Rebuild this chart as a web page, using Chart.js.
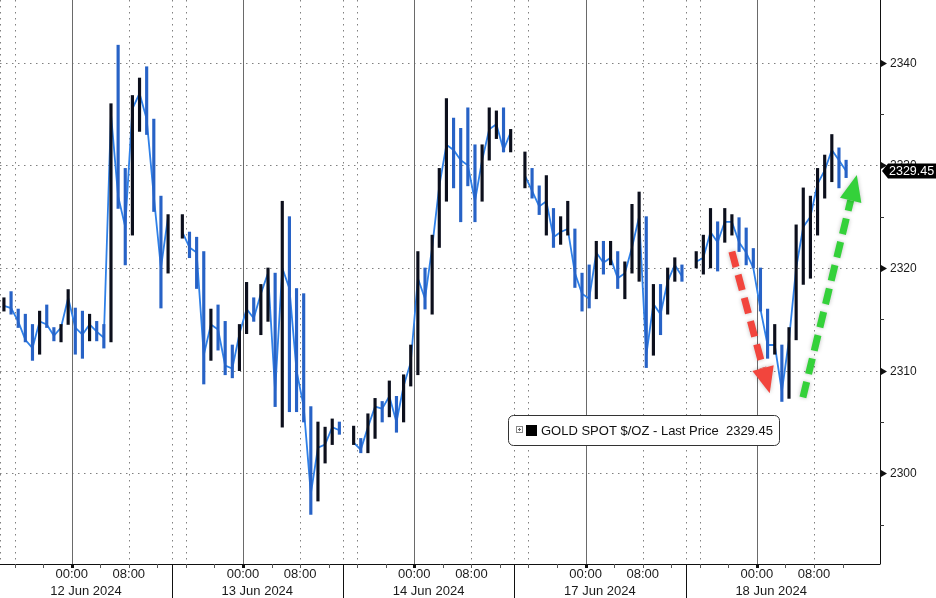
<!DOCTYPE html>
<html>
<head>
<meta charset="utf-8">
<title>Gold spot</title>
<script src="https://cdn.jsdelivr.net/npm/chart.js@4.4.1/dist/chart.umd.min.js"></script>
<style>
  html, body { margin: 0; padding: 0; background: #fff; }
  #wrap { width: 936px; height: 598px; }
</style>
</head>
<body>
<div id="wrap"><canvas id="gold" width="936" height="598"></canvas></div>
<script>
// hourly buckets, index = hour since first session open (weekend removed, null = daily break)
const closes = [
  2316.3, 2316.1, 2314.8, 2313.0, 2312.2, 2314.8, 2314.5, 2313.4, 2314.2, 2317.1, 2314.2, 2313.5,
  2314.5, 2313.8, 2313.2, 2335.0, 2327.0, 2324.0, 2335.5, 2337.0, 2334.5, 2327.0, 2320.0, 2325.0,
  null,   2323.5, 2322.0, 2321.5, 2311.5, 2314.5, 2314.0, 2310.5, 2310.2, 2313.6, 2316.0, 2315.1,
  2317.5, 2319.5, 2308.0, 2320.0, 2318.0, 2310.0, 2306.5, 2298.0, 2302.5, 2302.8, 2304.5, 2304.2,
  null,   2303.0, 2302.3, 2304.5, 2306.5, 2306.3, 2307.5, 2305.0, 2308.5, 2310.8, 2319.0, 2317.0,
  2322.0, 2328.0, 2332.0, 2331.5, 2330.5, 2330.0, 2326.5, 2330.5, 2333.5, 2334.0, 2331.5, 2333.2,
  null,   2329.0, 2327.5, 2326.0, 2326.5, 2323.0, 2323.5, 2323.8, 2319.5, 2317.5, 2317.0, 2321.5,
  2320.5, 2321.0, 2319.0, 2319.5, 2322.0, 2325.0, 2311.5, 2316.5, 2315.5, 2318.7, 2320.3, 2319.2,
  null,   2320.6, 2321.0, 2323.5, 2322.5, 2324.5, 2324.5, 2322.5, 2321.5, 2320.0, 2316.0, 2312.5,
  2312.5, 2308.0, 2313.0, 2320.0, 2324.0, 2325.0, 2328.2, 2329.5, 2331.5, 2330.5, 2329.45
];
const highs = [
  2317.1, 2317.7, 2316.0, 2315.5, 2314.5, 2315.8, 2316.4, 2314.2, 2314.5, 2317.9, 2316.1, 2315.8,
  2315.5, 2314.8, 2314.5, 2336.0, 2341.7, 2329.7, 2336.8, 2338.5, 2339.6, 2334.5, 2327.0, 2325.2,
  null,   2325.2, 2323.5, 2323.0, 2321.6, 2316.0, 2316.4, 2314.8, 2312.5, 2314.5, 2318.6, 2317.1,
  2318.4, 2320.0, 2319.5, 2326.5, 2325.0, 2318.0, 2317.5, 2306.5, 2305.0, 2304.5, 2305.3, 2305.0,
  null,   2304.6, 2303.4, 2305.8, 2307.3, 2307.0, 2309.0, 2307.5, 2309.6, 2312.5, 2321.6, 2320.0,
  2323.2, 2329.7, 2336.5, 2334.6, 2333.6, 2335.6, 2332.0, 2332.0, 2335.6, 2335.3, 2335.6, 2333.5,
  null,   2331.3, 2329.7, 2328.0, 2329.0, 2325.8, 2325.0, 2326.5, 2323.8, 2319.5, 2320.3, 2322.6,
  2322.6, 2322.6, 2321.6, 2320.6, 2326.2, 2327.4, 2325.0, 2318.4, 2318.4, 2320.0, 2321.0, 2320.3,
  null,   2321.6, 2323.2, 2325.8, 2324.5, 2325.8, 2325.2, 2324.9, 2323.9, 2321.9, 2320.0, 2316.0,
  2314.5, 2312.5, 2314.2, 2324.2, 2327.8, 2327.0, 2329.7, 2331.0, 2333.0, 2331.7, 2330.5
];
const lows = [
  2315.8, 2315.5, 2314.2, 2312.8, 2311.0, 2311.6, 2314.2, 2312.9, 2312.8, 2314.5, 2311.6, 2311.2,
  2312.9, 2312.9, 2312.2, 2312.8, 2325.8, 2320.3, 2323.2, 2333.3, 2333.0, 2325.5, 2316.1, 2319.5,
  null,   2322.9, 2321.0, 2318.0, 2308.7, 2311.0, 2312.0, 2309.6, 2309.3, 2310.0, 2313.6, 2314.8,
  2313.5, 2314.8, 2306.5, 2304.5, 2306.0, 2306.0, 2305.0, 2296.0, 2297.3, 2301.0, 2302.8, 2303.8,
  null,   2302.8, 2302.0, 2302.0, 2303.4, 2305.0, 2305.5, 2304.0, 2305.0, 2308.5, 2309.6, 2316.0,
  2315.5, 2322.0, 2326.5, 2327.8, 2324.5, 2328.0, 2324.5, 2326.5, 2330.5, 2332.6, 2331.3, 2331.3,
  null,   2327.8, 2326.8, 2325.2, 2323.2, 2322.0, 2322.3, 2323.2, 2318.1, 2315.8, 2316.1, 2317.0,
  2319.4, 2320.3, 2318.0, 2317.0, 2319.5, 2318.7, 2310.3, 2311.5, 2313.5, 2315.5, 2318.7, 2318.7,
  null,   2320.0, 2319.4, 2320.0, 2319.7, 2322.5, 2323.2, 2321.6, 2320.3, 2320.0, 2315.8, 2311.2,
  2311.6, 2307.0, 2307.3, 2313.0, 2318.4, 2319.0, 2323.2, 2326.8, 2328.4, 2327.8, 2328.8
];
const dayLabels = ['12 Jun 2024', '13 Jun 2024', '14 Jun 2024', '17 Jun 2024', '18 Jun 2024'];
const timeLabels = ['00:00', '08:00'];
const priceTicks = [2300, 2310, 2320, 2330, 2340];
const minorTicks = [2295, 2305, 2315, 2325, 2335];
const lastPrice = 2329.45;
const seriesName = 'GOLD SPOT $/OZ - Last Price';
// arrows drawn on the picture: [hour, price] tail -> tip
const redArrow = [[102.5, 2321.6], [107.8, 2307.8]];
const greenArrow = [[112.45, 2307.4], [120.0, 2329.05]];

// session layout (hours inside each 24h block)
const DAY = 24;
const TIME_OFFSETS = [10, 18];   // 00:00 and 08:00
const DOTTED_OFFSETS = [0, 2, 18];
const FONT = '"Liberation Sans", Arial, sans-serif';

const barData = closes.map((c, i) => ({ x: i + 0.5, y: c == null ? null : [lows[i], highs[i]] }));
const lineData = closes.map((c, i) => ({ x: i + 0.5, y: c }));
const barFill = closes.map((c, i) => {
  const prev = i > 0 && closes[i - 1] != null ? closes[i - 1] : c;
  return c >= prev ? '#0c0f1c' : '#2762c6';
});

function seg(ctx, x1, y1, x2, y2) {
  ctx.beginPath();
  ctx.moveTo(x1, y1);
  ctx.lineTo(x2, y2);
  ctx.stroke();
}

function drawArrow(ctx, x, y, pts, color) {
  const x1 = x.getPixelForValue(pts[0][0]), y1 = y.getPixelForValue(pts[0][1]);
  const x2 = x.getPixelForValue(pts[1][0]), y2 = y.getPixelForValue(pts[1][1]);
  const ang = Math.atan2(y2 - y1, x2 - x1);
  const headLen = 26, headHalf = 11;
  const bx = x2 - Math.cos(ang) * headLen, by = y2 - Math.sin(ang) * headLen;
  ctx.save();
  ctx.shadowColor = 'rgba(0,0,0,0.25)';
  ctx.shadowBlur = 4;
  ctx.strokeStyle = color;
  ctx.fillStyle = color;
  ctx.lineWidth = 7;
  ctx.setLineDash([16, 8]);
  seg(ctx, x1, y1, bx, by);
  ctx.setLineDash([]);
  ctx.beginPath();
  ctx.moveTo(x2, y2);
  ctx.lineTo(bx + Math.sin(ang) * headHalf, by - Math.cos(ang) * headHalf);
  ctx.lineTo(bx - Math.sin(ang) * headHalf, by + Math.cos(ang) * headHalf);
  ctx.closePath();
  ctx.fill();
  ctx.restore();
}

const overlay = {
  id: 'overlay',
  beforeDatasetsDraw(chart) {
    const { ctx, chartArea: a, scales: { x, y } } = chart;
    ctx.save();
    ctx.lineWidth = 1;
    ctx.strokeStyle = '#808080';
    ctx.setLineDash([1.5, 4.5]);
    priceTicks.forEach(v => {
      const py = Math.round(y.getPixelForValue(v)) + 0.5;
      seg(ctx, a.left, py, a.right, py);
    });
    dayLabels.forEach((d, k) => {
      DOTTED_OFFSETS.forEach(o => {
        const px = Math.round(x.getPixelForValue(k * DAY + o)) + 0.5;
        seg(ctx, px, a.top, px, a.bottom);
      });
    });
    ctx.setLineDash([]);
    ctx.strokeStyle = '#6a6a6a';
    dayLabels.forEach((d, k) => {
      const px = Math.round(x.getPixelForValue(k * DAY + TIME_OFFSETS[0])) + 0.5;
      seg(ctx, px, a.top, px, a.bottom);
    });
    ctx.restore();
  },
  afterDraw(chart) {
    const { ctx, chartArea: a, scales: { x, y } } = chart;
    const W = chart.width, H = chart.height;
    ctx.save();
    ctx.lineWidth = 1;
    ctx.strokeStyle = '#111';
    // axis lines
    seg(ctx, a.left, a.bottom + 0.5, a.right + 0.5, a.bottom + 0.5);
    seg(ctx, a.right + 0.5, a.top, a.right + 0.5, a.bottom);

    // day separators + small ticks under the x axis
    ctx.fillStyle = '#111';
    dayLabels.forEach((d, k) => {
      if (k > 0) {
        ctx.strokeStyle = '#111';
        const px = Math.round(x.getPixelForValue(k * DAY)) + 0.5;
        seg(ctx, px, a.bottom, px, H);
      }
      for (let o = 2; o < DAY; o += 4) {
        const h = k * DAY + o;
        const px = Math.round(x.getPixelForValue(h));
        if (o === TIME_OFFSETS[0]) {
          ctx.fillRect(px - 1, a.bottom, 3, 4);
        } else {
          ctx.strokeStyle = '#555';
          seg(ctx, px + 0.5, a.bottom, px + 0.5, a.bottom + 4);
        }
      }
    });

    // x labels
    ctx.fillStyle = '#1a1a1a';
    ctx.font = '13px ' + FONT;
    ctx.textAlign = 'center';
    ctx.textBaseline = 'middle';
    dayLabels.forEach((d, k) => {
      timeLabels.forEach((t, j) => {
        ctx.fillText(t, x.getPixelForValue(k * DAY + TIME_OFFSETS[j]), a.bottom + 10);
      });
      ctx.fillText(d, x.getPixelForValue(k * DAY + 12), a.bottom + 27);
    });

    // y axis markers and labels
    ctx.textAlign = 'left';
    ctx.font = '12px ' + FONT;
    priceTicks.forEach(v => {
      const py = Math.round(y.getPixelForValue(v));
      ctx.fillStyle = '#111';
      ctx.beginPath();
      ctx.moveTo(a.right + 1, py - 3);
      ctx.lineTo(a.right + 7, py + 0.5);
      ctx.lineTo(a.right + 1, py + 4);
      ctx.closePath();
      ctx.fill();
      ctx.fillStyle = '#1a1a1a';
      ctx.fillText(String(v), a.right + 10, py + 1);
    });
    ctx.strokeStyle = '#333';
    minorTicks.forEach(v => {
      const py = Math.round(y.getPixelForValue(v)) + 0.5;
      seg(ctx, a.right, py, a.right + 4, py);
    });

    // last price tag
    const ly = y.getPixelForValue(lastPrice);
    ctx.fillStyle = '#000';
    ctx.beginPath();
    ctx.moveTo(a.right + 2, ly);
    ctx.lineTo(a.right + 8, ly - 7.5);
    ctx.lineTo(W, ly - 7.5);
    ctx.lineTo(W, ly + 7.5);
    ctx.lineTo(a.right + 8, ly + 7.5);
    ctx.closePath();
    ctx.fill();
    ctx.fillStyle = '#fff';
    ctx.font = '12.5px ' + FONT;
    ctx.fillText(lastPrice.toFixed(2), a.right + 9, ly + 1);

    // legend box
    const bx = 508.5, by = 415.5, bw = 271, bh = 30;
    ctx.fillStyle = '#fff';
    ctx.strokeStyle = '#333';
    ctx.beginPath();
    ctx.roundRect(bx, by, bw, bh, 5);
    ctx.fill();
    ctx.stroke();
    ctx.strokeStyle = '#888';
    ctx.strokeRect(516.5, 426.5, 6, 6);
    ctx.fillStyle = '#666';
    ctx.fillRect(518, 429, 3, 1);
    ctx.fillRect(519, 428, 1, 3);
    ctx.fillStyle = '#000';
    ctx.fillRect(526, 425, 11, 11);
    ctx.fillStyle = '#111';
    ctx.font = '13px ' + FONT;
    ctx.fillText(seriesName + '  ' + lastPrice.toFixed(2), 541, by + bh / 2 + 1);

    drawArrow(ctx, x, y, redArrow, '#f2453d');
    drawArrow(ctx, x, y, greenArrow, '#34d13a');
    ctx.restore();
  }
};

new Chart(document.getElementById('gold'), {
  type: 'bar',
  data: {
    datasets: [
      {
        type: 'bar',
        data: barData,
        backgroundColor: barFill,
        borderWidth: 0,
        barThickness: 2.5,
        order: 0
      },
      {
        type: 'line',
        data: lineData,
        borderColor: '#2f80e8',
        borderWidth: 1.8,
        pointRadius: 0,
        tension: 0,
        spanGaps: false,
        order: 1
      }
    ]
  },
  options: {
    responsive: false,
    animation: false,
    devicePixelRatio: 1,
    events: [],
    layout: { padding: 0 },
    plugins: { legend: { display: false }, tooltip: { enabled: false } },
    scales: {
      x: {
        type: 'linear',
        offset: false,
        min: -0.05,
        max: 123.25,
        ticks: { display: false },
        grid: { display: false },
        border: { display: false },
        afterFit: s => { s.height = 34; }
      },
      y: {
        position: 'right',
        min: 2291.17,
        max: 2346.1,
        ticks: { display: false },
        grid: { display: false },
        border: { display: false },
        afterFit: s => { s.width = 56; }
      }
    }
  },
  plugins: [overlay]
});
</script>
</body>
</html>
